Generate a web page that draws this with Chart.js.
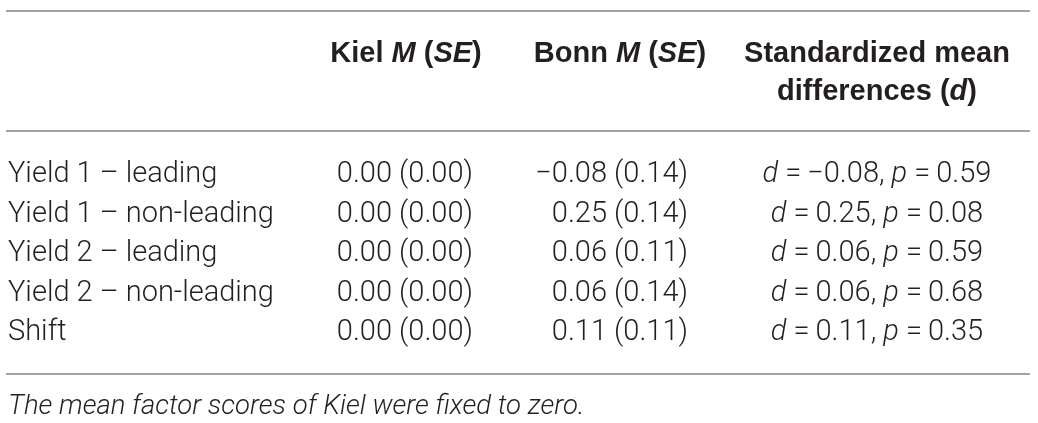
<!DOCTYPE html>
<html>
<head>
<meta charset="utf-8">
<script src="https://cdn.jsdelivr.net/npm/chart.js@4.4.1/dist/chart.umd.min.js"></script>
<style>
html,body{margin:0;padding:0;background:#fff;overflow:hidden}
</style>
</head>
<body>
<canvas id="tbl" width="1038" height="423"></canvas>
<script>
// table content
const rowLabels = ['Yield 1 – leading','Yield 1 – non-leading','Yield 2 – leading','Yield 2 – non-leading','Shift'];
const kielM  = [0.00,0.00,0.00,0.00,0.00];
const kielSE = [0.00,0.00,0.00,0.00,0.00];
const bonnM  = [-0.08,0.25,0.06,0.06,0.11];
const bonnSE = [0.14,0.14,0.11,0.14,0.11];
const dVals  = [-0.08,0.25,0.06,0.06,0.11];
const pVals  = [0.59,0.08,0.59,0.68,0.35];
const footnote = 'The mean factor scores of Kiel were fixed to zero.';

// layout (x in px of the hidden x scale, y in row units: row i baseline = i)
const colX = {label:8, kiel:473, kielHead:406, bonn:688, bonnHead:620, d:877};
const ruleY = [-4.33,-1.29,4.86];
const headY = [-3.04,-2.08];
const footY = 5.87;
const ink = '#231f20';
const ruleColor = '#a3a3a3';

function fmt(v){
    return (v<0?'\u2212':'')+Math.abs(v).toFixed(2);
}
function fontOf(s,size){
    if(s.b) return (s.i?'italic ':'')+'bold '+size+'px "Liberation Sans", Arial, sans-serif';
    return (s.i?'italic ':'')+'300 '+size+'px Roboto, "Liberation Sans", sans-serif';
}
function drawRich(ctx,segs,x,y,align,size){
    let w=0;
    segs.forEach(s=>{ctx.font=fontOf(s,size);w+=ctx.measureText(s.t).width;});
    let cx = align=='right' ? x-w : align=='center' ? x-w/2 : x;
    segs.forEach(s=>{
        ctx.font=fontOf(s,size);
        ctx.fillText(s.t,cx,y);
        cx+=ctx.measureText(s.t).width;
    });
}

const headCells = [
    [{t:'Kiel ',b:true},{t:'M',b:true,i:true},{t:' (',b:true},{t:'SE',b:true,i:true},{t:')',b:true}],
    [{t:'Bonn ',b:true},{t:'M',b:true,i:true},{t:' (',b:true},{t:'SE',b:true,i:true},{t:')',b:true}],
    [{t:'Standardized mean',b:true}],
    [{t:'differences (',b:true},{t:'d',b:true,i:true},{t:')',b:true}]
];

const datasets = [
    {
        data: headCells.map((c,i)=>({x:[colX.kielHead,colX.bonnHead,colX.d,colX.d][i], y:[headY[0],headY[0],headY[0],headY[1]][i]})),
        cells: headCells, align:'center', size:29
    },
    {
        data: rowLabels.map((r,i)=>({x:colX.label,y:i})),
        cells: rowLabels.map(r=>[{t:r}]), align:'left', size:29
    },
    {
        data: kielM.map((v,i)=>({x:colX.kiel,y:i})),
        cells: kielM.map((v,i)=>[{t:fmt(v)+' ('+fmt(kielSE[i])+')'}]), align:'right', size:29
    },
    {
        data: bonnM.map((v,i)=>({x:colX.bonn,y:i})),
        cells: bonnM.map((v,i)=>[{t:fmt(v)+' ('+fmt(bonnSE[i])+')'}]), align:'right', size:29
    },
    {
        data: dVals.map((v,i)=>({x:colX.d,y:i})),
        cells: dVals.map((v,i)=>[{t:'d',i:true},{t:' =\u2009'+fmt(v)+', '},{t:'p',i:true},{t:' =\u2009'+fmt(pVals[i])}]), align:'center', size:29
    },
    {
        data: [{x:colX.label,y:footY}],
        cells: [[{t:footnote,i:true}]], align:'left', size:27.5
    }
];
datasets.forEach(d=>{d.pointRadius=0;d.pointHoverRadius=0;});

const tablePlugin = {
    id:'tablePlugin',
    beforeDatasetsDraw(chart){
        const ctx=chart.ctx, xs=chart.scales.x, ys=chart.scales.y;
        ctx.save();
        ctx.strokeStyle=ruleColor;
        ctx.lineWidth=2;
        ruleY.forEach(v=>{
            const py=Math.round(ys.getPixelForValue(v));
            ctx.beginPath();
            ctx.moveTo(xs.getPixelForValue(6),py);
            ctx.lineTo(xs.getPixelForValue(1030),py);
            ctx.stroke();
        });
        ctx.restore();
    },
    afterDatasetsDraw(chart){
        const ctx=chart.ctx;
        ctx.save();
        ctx.fillStyle=ink;
        ctx.textBaseline='alphabetic';
        chart.data.datasets.forEach((ds,di)=>{
            chart.getDatasetMeta(di).data.forEach((pt,i)=>{
                drawRich(ctx,ds.cells[i],pt.x,pt.y,ds.align,ds.size);
            });
        });
        ctx.restore();
    }
};

new Chart(document.getElementById('tbl'),{
    type:'scatter',
    data:{datasets:datasets},
    options:{
        responsive:false,
        animation:false,
        layout:{padding:0},
        events:[],
        plugins:{legend:{display:false},tooltip:{enabled:false}},
        scales:{
            x:{type:'linear',display:false,min:0,max:1038},
            y:{type:'linear',display:false,reverse:true,min:-182/39.5,max:(423-182)/39.5}
        }
    },
    plugins:[tablePlugin]
});
</script>
</body>
</html>
